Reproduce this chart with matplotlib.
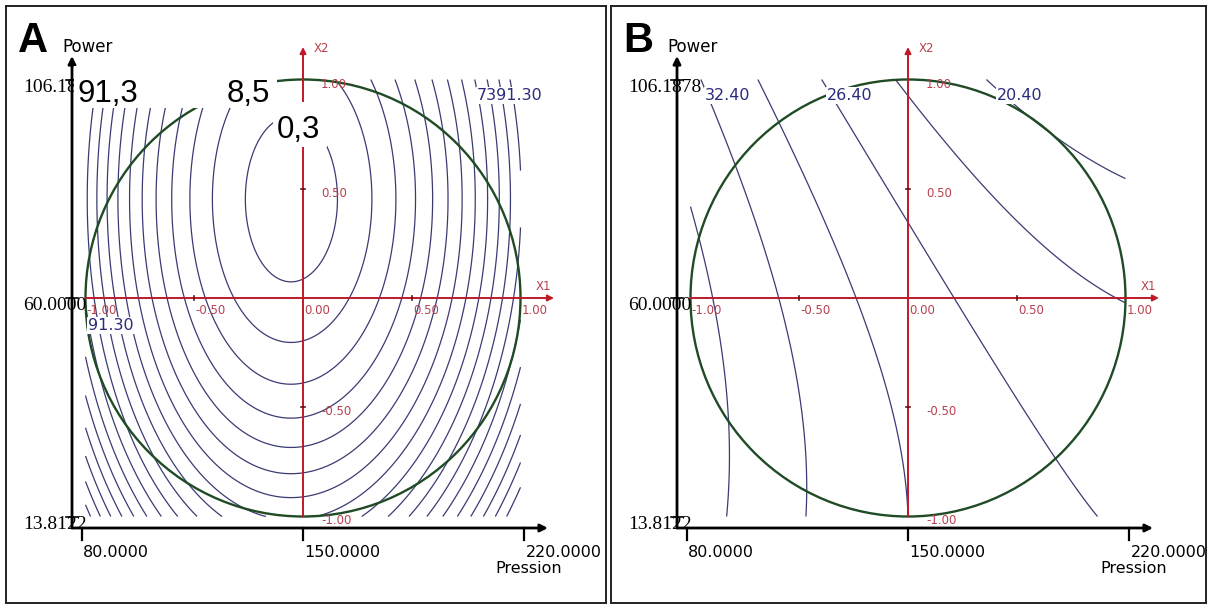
import numpy as np
import matplotlib
matplotlib.use("Agg")
import matplotlib.pyplot as plt
from matplotlib.patches import Circle, Rectangle, FancyArrowPatch

W, H, DPI = 1214, 605, 100

# ---------------- data ----------------
pression_ticks = [80.0, 150.0, 220.0]
power_ticks = [13.8122, 60.0, 106.1878]
coded_x1_ticks = [-1.0, -0.5, 0.0, 0.5, 1.0]
coded_x2_ticks = [1.0, 0.5, -0.5, -1.0]

# Panel A response surface (coded units): centre, curvatures, skew, minimum
a_center = [-0.055, 0.453]
a_curvature = [92.4, 28.8]
a_skew = 0.0755
a_minimum = -3.84
a_levels = [0.3, 8.57, 16.85, 25.12, 33.39, 41.67, 49.94, 58.21, 66.48,
            74.76, 83.03, 91.3, 99.57, 107.85, 116.12, 124.39, 132.67, 140.94]
a_big_labels = [91.3, 8.5, 0.3]
a_small_labels = ["7391.30", "91.30"]

# Panel B response surface: b0, b1, b2, b11, b22, b12
b_coef = [27.7, -6.6, -3.23, 2.2, -1.53, -1.24]
b_levels = [20.4, 23.4, 26.4, 29.4, 32.4, 35.4]
b_labels = [32.4, 26.4, 20.4]

# ---------------- surfaces ----------------
u = np.linspace(-1, 1, 401)
v = np.linspace(-1, 1, 401)
U, V = np.meshgrid(u, v)
dA = U - a_center[0]
ZA = (a_minimum + a_curvature[0] * dA ** 2 * (1 - a_skew * dA)
      + a_curvature[1] * (V - a_center[1]) ** 2)
b0, b1, b2, b11, b22, b12 = b_coef
ZB = b0 + b1 * U + b2 * V + b11 * U ** 2 + b22 * V ** 2 + b12 * U * V

CONTOUR_C = '#3b3b74'
RED = '#c0182a'
RED_TXT = '#b8404e'
GREEN = '#1f4b25'
NAVY = '#2b2b7c'
SANS = 'DejaVu Sans'

fig = plt.figure(figsize=(W / DPI, H / DPI), dpi=DPI)
fig.patch.set_facecolor('white')


def arrow(ax, p0, p1, color, lw, ms=11):
    ax.add_patch(FancyArrowPatch(p0, p1, arrowstyle='-|>', mutation_scale=ms,
                                 color=color, lw=lw, shrinkA=0, shrinkB=0,
                                 zorder=4))


def panel(ox, fl, fr, Z, levels, letter):
    cx, cy, sx, sy = ox + 231, 298.0, 217.5, 218.5
    top, bot = 6, 603
    ax = fig.add_axes([fl / W, 1 - bot / H, (fr - fl) / W, (bot - top) / H])
    ax.set_xlim((fl - cx) / sx, (fr - cx) / sx)
    ax.set_ylim((cy - bot) / sy, (cy - top) / sy)
    ax.set_xticks([])
    ax.set_yticks([])
    for sp in ax.spines.values():
        sp.set_linewidth(1.4)
        sp.set_color('#222222')

    def P(x, y):
        return ((x + (ox - 72) - cx) / sx, (cy - y) / sy)

    # contours, circle
    ax.contour(u, v, Z, levels=levels, colors=CONTOUR_C, linewidths=0.9,
               zorder=1)
    ax.add_patch(Circle((0, 0), 1, fill=False, ec=GREEN, lw=1.7, zorder=3))

    # black (natural) axes
    x0 = P(72, 0)[0]
    y0 = P(0, 528)[1]
    arrow(ax, (x0, y0), (x0, P(0, 56)[1]), 'black', 2.0)
    arrow(ax, (x0, y0), (P(548, 0)[0], y0), 'black', 2.0)
    for p in pression_ticks:
        t = (p - 150.0) / 70.0 * 1.018
        ax.plot([t, t], [y0, y0 - 12 / sy], color='black', lw=1.6, zorder=4)
        ax.text(t + 1 / sx, P(0, 545)[1], f'{p:.4f}', ha='left', va='top',
                fontsize=11.5, family=SANS, zorder=4)
    for p in power_ticks:
        t = (p - 60.0) / 46.1878
        ax.plot([x0 - 6 / sx, x0 + 6 / sx], [t, t], color='black', lw=1.2,
                zorder=4)
        ax.text(P(23, 0)[0], t - 8 / sy, f'{p:.4f}', ha='left', va='center',
                fontsize=14, family='Liberation Serif', zorder=4)
    ax.text(*P(495, 561), 'Pression', ha='left', va='top', fontsize=11.5,
            family=SANS, zorder=4)
    ax.text(*P(62, 52), 'Power', ha='left', va='baseline', fontsize=12,
            family=SANS, zorder=4)
    ax.text(*P(18, 52), letter, ha='left', va='baseline', fontsize=30,
            fontweight='bold', family='Liberation Sans', zorder=6)

    # red (coded) axes
    arrow(ax, (-1, 0), (P(554, 0)[0], 0), RED, 1.4, ms=9)
    arrow(ax, (0, -1), (0, P(0, 47)[1]), RED, 1.4, ms=9)
    for t in coded_x1_ticks:
        if abs(t) == 0.5:
            ax.plot([t, t], [-2 / sy, 2 / sy], color='#601010', lw=1.2, zorder=4)
        ax.text(t + 1 / sx, -6 / sy, f'{t:.2f}', ha='left', va='top',
                fontsize=8.5, color=RED_TXT, family=SANS, zorder=4)
    for t in coded_x2_ticks:
        if abs(t) == 0.5:
            ax.plot([-2 / sx, 2 / sx], [t, t], color='#601010', lw=1.2, zorder=4)
        ax.text(18 / sx, t + 2 / sy, f'{t:.2f}', ha='left', va='top',
                fontsize=8.5, color=RED_TXT, family=SANS, zorder=4)
    ax.text(P(536, 0)[0], 12 / sy, 'X1', ha='left', va='center', fontsize=8.5,
            color=RED_TXT, family=SANS, zorder=4)
    ax.text(11 / sx, P(0, 49)[1], 'X2', ha='left', va='center', fontsize=8.5,
            color=RED_TXT, family=SANS, zorder=4)
    return ax, P, sx, sy


# ---------------- panel A ----------------
axA, PA, sxA, syA = panel(72, 6, 606, ZA, a_levels, 'A')
axA.add_patch(Rectangle(PA(74, 108), (277 - 74) / sxA, (108 - 66) / syA,
                        fc='white', ec='none', zorder=5))
axA.add_patch(Rectangle(PA(273, 147), (327 - 273) / sxA, (147 - 102) / syA,
                        fc='white', ec='none', zorder=5))
for val, (x, y) in zip(a_big_labels, [(78, 102), (227, 102), (277, 138)]):
    axA.text(*PA(x, y), f'{val:.1f}'.replace('.', ','), ha='left',
             va='baseline', fontsize=22.5, family='Liberation Sans', zorder=6)
for s, (x, y) in zip(a_small_labels, [(477, 100), (88, 330)]):
    axA.text(*PA(x, y), s, ha='left', va='baseline', fontsize=11.5,
             color=NAVY, family=SANS, zorder=6,
             bbox=dict(fc='white', ec='none', pad=1.0))

# ---------------- panel B ----------------
axB, PB, sxB, syB = panel(677, 611, 1206, ZB, b_levels, 'B')
for val, x in zip(b_labels, [100, 222, 392]):
    axB.text(*PB(x, 100), f'{val:.2f}', ha='left', va='baseline',
             fontsize=11.5, color=NAVY, family=SANS, zorder=6,
             bbox=dict(fc='white', ec='none', pad=1.0))

fig.savefig('out.png', dpi=DPI, facecolor='white')
